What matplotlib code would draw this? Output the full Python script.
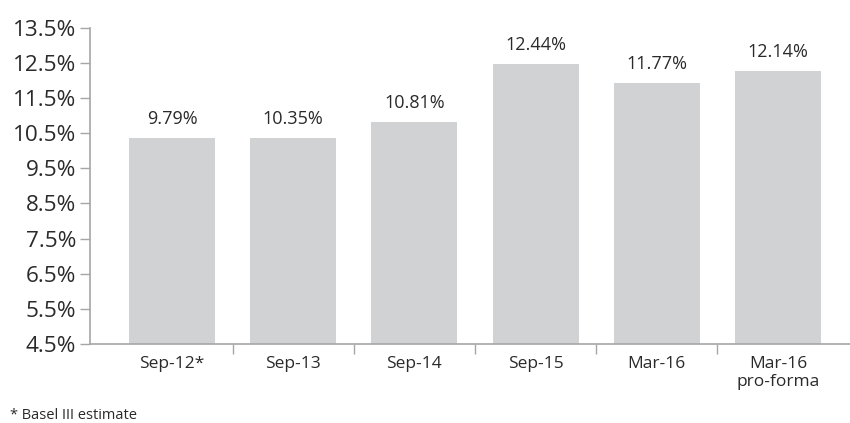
import numpy as np
import matplotlib
matplotlib.use("Agg")
import matplotlib.pyplot as plt
from matplotlib.ticker import FixedLocator

plt.rcParams['font.family'] = ['Open Sans', 'DejaVu Sans']

categories = ["Sep-12*", "Sep-13", "Sep-14", "Sep-15", "Mar-16", "Mar-16\npro-forma"]
# bar heights as drawn in the reference (they do not all match their labels)
bar_heights = [10.37, 10.37, 10.82, 12.47, 11.93, 12.27]
value_labels = ["9.79%", "10.35%", "10.81%", "12.44%", "11.77%", "12.14%"]
y_ticks = [4.5, 5.5, 6.5, 7.5, 8.5, 9.5, 10.5, 11.5, 12.5, 13.5]

bar_color = "#d1d2d4"
axis_color = "#a6a6a6"
text_color = "#2a2a2a"

fig = plt.figure(figsize=(8.5, 4.23), dpi=100)
ax = fig.add_axes([90 / 850, 1 - 344 / 423, 760 / 850, (344 - 27.7) / 423])

x = np.arange(len(categories))
ax.bar(x, [h - 4.5 for h in bar_heights], bottom=4.5, width=0.71, color=bar_color, zorder=2)

for xi, h, lab in zip(x, bar_heights, value_labels):
    ax.annotate(lab, (xi, h), xytext=(0, 7), textcoords="offset points",
                ha="center", va="bottom", fontsize=13, color=text_color)

ax.set_xlim(-0.677, 5.595)
ax.set_ylim(4.5, 13.5)

ax.set_yticks(y_ticks)
ax.set_yticklabels([f"{t}%" for t in y_ticks], fontsize=16.2, color=text_color)
ax.tick_params(axis="y", length=7, width=1, color=axis_color, pad=3)

ax.set_xticks(x)
ax.set_xticklabels(categories, fontsize=12.5, color=text_color, linespacing=1.1)
ax.tick_params(axis="x", which="major", length=0, pad=9)
ax.xaxis.set_minor_locator(FixedLocator([0.5, 1.5, 2.5, 3.5, 4.5]))
ax.tick_params(axis="x", which="minor", length=7, width=1, color=axis_color)

for side in ["top", "right"]:
    ax.spines[side].set_visible(False)
for side in ["left", "bottom"]:
    ax.spines[side].set_color(axis_color)
    ax.spines[side].set_linewidth(1.2)

fig.text(10 / 850, 1 - 415 / 423, "* Basel III estimate", fontsize=10.5,
         color=text_color, ha="left", va="center")

fig.savefig("out.png", dpi=100)
